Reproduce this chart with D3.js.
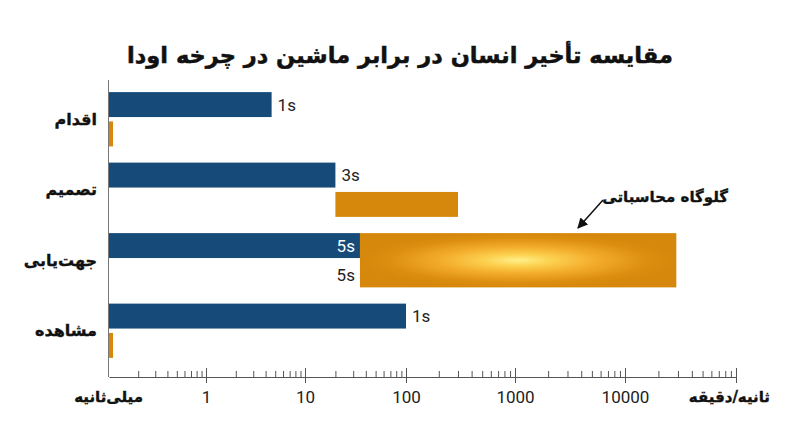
<!DOCTYPE html>
<html><head><meta charset="utf-8">
<script src="https://cdn.jsdelivr.net/npm/d3@7/dist/d3.min.js"></script>
<style>body{margin:0;background:#fff}svg{display:block}</style>
</head><body><svg id="c" width="800" height="447"></svg>
<script>
// ---- data ----
const categories = ["اقدام", "تصمیم", "جهت‌یابی", "مشاهده"];
const humanValues = [4.6, 20, 35, 100];          // ms
const humanLabels = ["1s", "3s", "5s", "1s"];
const machineStart = [0.1, 20, 35, 0.1];         // ms
const machineEnd = [0.11, 300, 29000, 0.11];     // ms
const machineLabels = ["", "", "5s", ""];
const axisDomain = [0.1, 1, 10, 100, 1000, 10000, 100000];
const majorTicks = [1, 10, 100, 1000, 10000, 100000];
const tickLabels = ["1", "10", "100", "1000", "10000", ""];
const title = "مقایسه تأخیر انسان در برابر ماشین در چرخه اودا";
const unitLeft = "میلی‌ثانیه";
const unitRight = "ثانیه/دقیقه";
const annotation = "گلوگاه محاسباتی";
const highlight = "جهت‌یابی";

// ---- setup ----
const svg = d3.select("#c");
const fa = "'DejaVu Sans', sans-serif";
const num = "Roboto, 'Noto Sans', sans-serif";
const BLUE = "#164a78", ORANGE = "#d5880b";

const x = d3.scaleLog().domain(axisDomain).range([109, 206, 305, 406, 515, 625, 736]);
const axisY = 377;
const y = d3.scaleBand().domain(categories).range([84, 366]).paddingInner(0.23).paddingOuter(0.115);
const ySub = d3.scaleBand().domain(["human", "machine"]).range([0, y.bandwidth()]).paddingInner(0.15).paddingOuter(0);

const defs = svg.append("defs");
const grad = defs.append("radialGradient").attr("id", "glow").attr("cx", 0.5).attr("cy", 0.5).attr("r", 0.5);
[[0, "#fff08a"], [0.22, "#fcd04e"], [0.5, "#f3ab2a"], [0.82, "#dc8e10"], [1, "#d5880b"]]
  .forEach(([o, c]) => grad.append("stop").attr("offset", o).attr("stop-color", c));
defs.append("marker").attr("id", "arr").attr("viewBox", "0 0 10 10").attr("refX", 9).attr("refY", 5)
  .attr("markerWidth", 7).attr("markerHeight", 7).attr("orient", "auto-start-reverse")
  .append("path").attr("d", "M0,0 L10,5 L0,10 z").attr("fill", "#111");

function faText(sel) {
  return sel.attr("font-family", fa).attr("font-weight", "bold").attr("fill", "#111")
    .attr("stroke", "#111").attr("stroke-width", 0.35);
}

// title
faText(svg.append("text").attr("x", 400).attr("y", 63).attr("text-anchor", "middle").attr("font-size", 22.5))
  .attr("stroke-width", 0.5).text(title);

const rows = categories.map((c, i) => ({
  c, h: humanValues[i], hl: humanLabels[i], ms: machineStart[i], me: machineEnd[i], ml: machineLabels[i]
}));

// bars
const g = svg.append("g");
rows.forEach(r => {
  const y0 = y(r.c);
  const isHi = r.c === highlight;
  const my = isHi ? y0 : y0 + ySub("machine");
  const mh = isHi ? y.bandwidth() : ySub.bandwidth();
  g.append("rect").attr("x", x(r.ms)).attr("y", my).attr("width", x(r.me) - x(r.ms)).attr("height", mh)
    .attr("fill", isHi ? "url(#glow)" : ORANGE);
  g.append("rect").attr("x", x(axisDomain[0])).attr("y", y0 + ySub("human"))
    .attr("width", x(r.h) - x(axisDomain[0])).attr("height", ySub.bandwidth()).attr("fill", BLUE);
  if (isHi) {
    g.append("text").attr("x", x(r.h) - 5).attr("y", y0 + ySub("human") + ySub.bandwidth() / 2)
      .attr("dy", "0.35em").attr("text-anchor", "end").attr("font-family", num).attr("font-size", 17)
      .attr("fill", "#fff").text(r.hl);
  } else {
    g.append("text").attr("x", x(r.h) + 6).attr("y", y0 + ySub("human") + ySub.bandwidth() / 2)
      .attr("dy", "0.35em").attr("font-family", num).attr("font-size", 17).attr("fill", "#222").text(r.hl);
  }
  if (r.ml) {
    g.append("text").attr("x", x(r.ms) - 5).attr("y", y0 + ySub("machine") + ySub.bandwidth() / 2)
      .attr("dy", "0.35em").attr("text-anchor", "end").attr("font-family", num).attr("font-size", 17)
      .attr("fill", "#222").text(r.ml);
  }
  faText(svg.append("text").attr("x", 97).attr("y", y0 + y.bandwidth() / 2).attr("dy", "0.35em")
    .attr("text-anchor", "end").attr("font-size", 16)).text(r.c);
});

// y axis line
svg.append("line").attr("x1", 108.5).attr("x2", 108.5).attr("y1", 80).attr("y2", axisY)
  .attr("stroke", "#777").attr("stroke-width", 1);

// x axis: minor ticks
const minor = x.ticks().filter(v => !majorTicks.includes(v) && v !== axisDomain[0]);
const ax1 = svg.append("g").attr("transform", `translate(0,${axisY})`)
  .call(d3.axisBottom(x).tickValues(minor).tickSize(-6).tickSizeOuter(0).tickFormat(""));
ax1.select(".domain").attr("stroke", "#555");
ax1.selectAll(".tick line").attr("stroke", "#555");

// major ticks
const ax2 = svg.append("g").attr("transform", `translate(0,${axisY})`)
  .call(d3.axisBottom(x).tickValues(majorTicks).tickSize(6).tickFormat((d, i) => tickLabels[i]));
ax2.select(".domain").remove();
ax2.selectAll(".tick line").attr("y1", -9).attr("stroke", "#555");
ax2.selectAll(".tick text").attr("y", 26).attr("dy", null).attr("font-family", num)
  .attr("font-size", 17).attr("fill", "#222");

// unit labels
faText(svg.append("text").attr("x", 143).attr("y", 402).attr("text-anchor", "end").attr("font-size", 15)).text(unitLeft);
faText(svg.append("text").attr("x", 770).attr("y", 402).attr("text-anchor", "end").attr("font-size", 15)).text(unitRight);

// annotation
faText(svg.append("text").attr("x", 728).attr("y", 202).attr("text-anchor", "end").attr("font-size", 15)).text(annotation);
svg.append("line").attr("x1", 603).attr("y1", 200).attr("x2", 578).attr("y2", 228)
  .attr("stroke", "#111").attr("stroke-width", 1.5).attr("marker-end", "url(#arr)");
</script></body></html>
